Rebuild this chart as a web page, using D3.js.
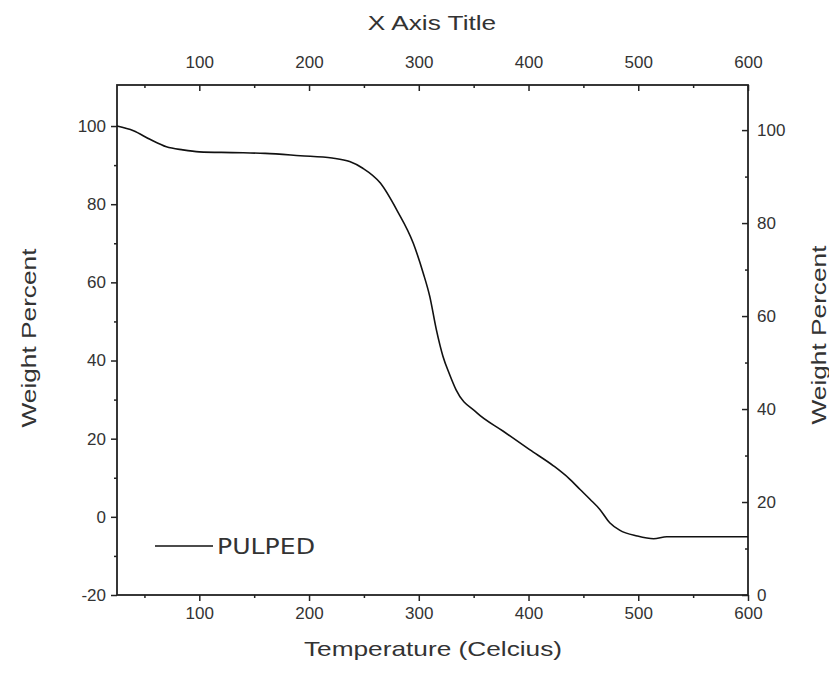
<!DOCTYPE html>
<html>
<head>
<meta charset="utf-8">
<script src="https://cdn.jsdelivr.net/npm/d3@7"></script>
<style>
  body { margin: 0; background: #fff; }
  svg text { font-family: "Liberation Sans", Arial, sans-serif; fill: #333; }
</style>
</head>
<body>
<div id="chart"></div>
<script>
// TGA curve
const temps = [25, 40, 55, 70, 85, 100, 130, 160, 192, 221, 237, 249, 265, 280, 295, 304, 310, 316, 322, 328, 334, 353, 377, 401, 423, 437, 447, 456, 465, 474, 483, 499, 514, 526, 600];
const weights = [100, 98.8, 96.6, 94.7, 93.9, 93.4, 93.2, 93.0, 92.4, 91.8, 90.9, 89.2, 85.4, 78.5, 70.0, 62.4, 56.4, 47.9, 41.1, 36.5, 32.5, 26.6, 21.9, 17.2, 13.0, 9.8, 7.0, 4.5, 1.9, -1.5, -3.4, -4.9, -5.6, -5.1, -5.1];
const xTicks = [100, 200, 300, 400, 500, 600];
const xMinor = [50, 150, 250, 350, 450, 550];
const yLeftTicks = [-20, 0, 20, 40, 60, 80, 100];
const yLeftMinor = [-10, 10, 30, 50, 70, 90];
const yRightTicks = [0, 20, 40, 60, 80, 100];
const yRightMinor = [10, 30, 50, 70, 90];
const seriesName = "PULPED";

const width = 829, height = 677;
const plotL = 117, plotR = 748, plotT = 85, plotB = 595;
const stretch = "scale(1.25,1)";
const fmt = d => String(d);

const svg = d3.select("#chart").append("svg")
    .attr("width", width)
    .attr("height", height);

const x = d3.scaleLinear().domain([25, 600]).range([plotL, plotR]);
const yL = d3.scaleLinear().domain([-20, 110.5]).range([plotB, plotT]);
const yR = d3.scaleLinear().domain([0, 109.7]).range([plotB, plotT]);

function styleAxis(g) {
    g.select(".domain").remove();
    g.selectAll("line").attr("stroke", "#222").attr("stroke-width", 1.5);
    g.selectAll("text").style("font-size", "17px").attr("fill", "#333");
}

// minor ticks first
svg.append("g").attr("transform", `translate(0,${plotB})`)
    .call(d3.axisBottom(x).tickValues(xMinor).tickSize(3).tickFormat(""))
    .call(styleAxis);
svg.append("g").attr("transform", `translate(0,${plotT})`)
    .call(d3.axisBottom(x).tickValues(xMinor).tickSize(3).tickFormat(""))
    .call(styleAxis);
svg.append("g").attr("transform", `translate(${plotL},0)`)
    .call(d3.axisLeft(yL).tickValues(yLeftMinor).tickSize(3).tickFormat(""))
    .call(styleAxis);
svg.append("g").attr("transform", `translate(${plotR},0)`)
    .call(d3.axisLeft(yR).tickValues(yRightMinor).tickSize(3).tickFormat(""))
    .call(styleAxis);

// bottom axis
svg.append("g").attr("transform", `translate(0,${plotB})`)
    .call(d3.axisBottom(x).tickValues(xTicks).tickSize(6).tickPadding(6).tickFormat(fmt))
    .call(styleAxis);

// top axis, ticks point inward, labels above
const gTop = svg.append("g").attr("transform", `translate(0,${plotT})`)
    .call(d3.axisBottom(x).tickValues(xTicks).tickSize(6).tickFormat(""))
    .call(styleAxis);
gTop.selectAll(".tick").append("text")
    .attr("y", -17)
    .attr("text-anchor", "middle")
    .style("font-size", "17px")
    .text(fmt);

// left axis
svg.append("g").attr("transform", `translate(${plotL},0)`)
    .call(d3.axisLeft(yL).tickValues(yLeftTicks).tickSize(6).tickPadding(5).tickFormat(fmt))
    .call(styleAxis);

// right axis, ticks point inward, labels outside
const gRight = svg.append("g").attr("transform", `translate(${plotR},0)`)
    .call(d3.axisLeft(yR).tickValues(yRightTicks).tickSize(6).tickFormat(""))
    .call(styleAxis);
gRight.selectAll(".tick").append("text")
    .attr("x", 9)
    .attr("dy", "0.32em")
    .attr("text-anchor", "start")
    .style("font-size", "17px")
    .text(fmt);

// frame
svg.append("rect")
    .attr("x", plotL).attr("y", plotT)
    .attr("width", plotR - plotL).attr("height", plotB - plotT)
    .attr("fill", "none")
    .attr("stroke", "#222")
    .attr("stroke-width", 1.8);

// curve
const line = d3.line()
    .x((d, i) => x(temps[i]))
    .y(d => yL(d))
    .curve(d3.curveMonotoneX);
svg.append("path")
    .datum(weights)
    .attr("d", line)
    .attr("fill", "none")
    .attr("stroke", "#111")
    .attr("stroke-width", 1.6);

// titles
svg.append("text")
    .attr("transform", `translate(432,30) ${stretch}`)
    .attr("text-anchor", "middle")
    .style("font-size", "21px")
    .text("X Axis Title");
svg.append("text")
    .attr("transform", `translate(433,656) ${stretch}`)
    .attr("text-anchor", "middle")
    .style("font-size", "21px")
    .text("Temperature (Celcius)");
svg.append("text")
    .attr("transform", "translate(36,338) rotate(-90) scale(1.25,1)")
    .attr("text-anchor", "middle")
    .style("font-size", "21px")
    .text("Weight Percent");
svg.append("text")
    .attr("transform", "translate(826,335) rotate(-90) scale(1.25,1)")
    .attr("text-anchor", "middle")
    .style("font-size", "21px")
    .text("Weight Percent");

// legend
svg.append("line")
    .attr("x1", 155).attr("x2", 213)
    .attr("y1", 546).attr("y2", 546)
    .attr("stroke", "#111")
    .attr("stroke-width", 1.6);
svg.append("text")
    .attr("x", 217).attr("y", 554)
    .attr("textLength", 98)
    .attr("lengthAdjust", "spacingAndGlyphs")
    .style("font-family", "'DejaVu Sans', sans-serif")
    .style("font-size", "21px")
    .attr("fill", "#222")
    .text(seriesName);
</script>
</body>
</html>
